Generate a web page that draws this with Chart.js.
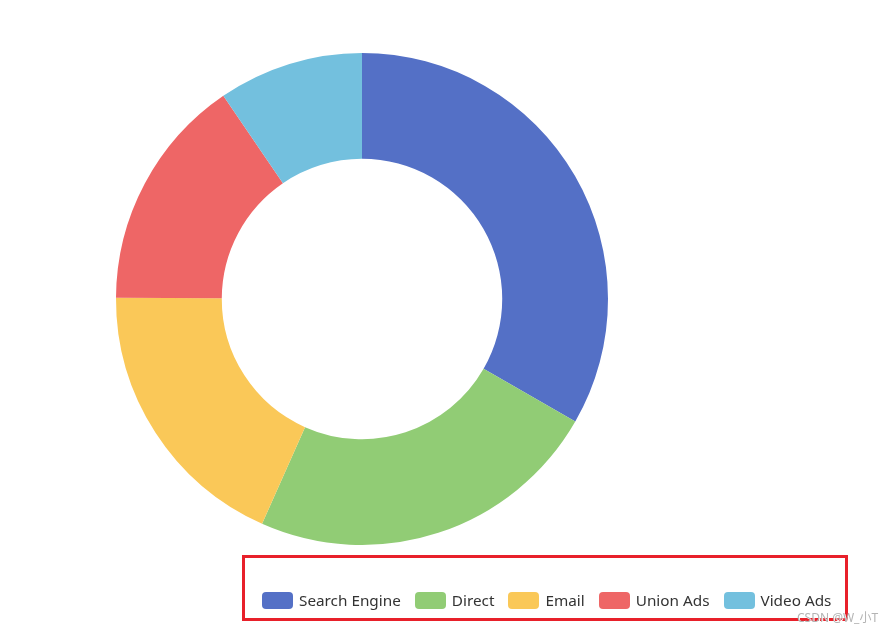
<!DOCTYPE html>
<html>
<head>
<meta charset="utf-8">
<script src="https://cdn.jsdelivr.net/npm/chart.js@4"></script>
<style>
  html, body { margin: 0; padding: 0; background: #fff; }
  #wrap { position: relative; width: 890px; height: 633px; overflow: hidden; }
  #c { position: absolute; left: 0; top: 0; }
  #legend { position: absolute; left: 262px; top: 590px; display: flex; align-items: center;
    font-family: "Noto Sans", "Open Sans", sans-serif; font-size: 15.3px; color: #333; white-space: nowrap; }
  .item { display: flex; align-items: center; margin-right: 14px; }
  .box { width: 31px; height: 17px; border-radius: 4px; margin-right: 6px; }
  #frame { position: absolute; left: 242px; top: 555px; width: 600px; height: 60px;
    border: 3px solid #e8202a; }
  #wm { position: absolute; left: 797px; top: 608px; font-family: "Noto Sans", "Noto Sans CJK SC", sans-serif;
    font-size: 12px; color: #b4b4b4; text-shadow: 1px 1px 0 #fff; }
</style>
</head>
<body>
<div id="wrap">
  <canvas id="c" width="890" height="633"></canvas>
  <div id="frame"></div>
  <div id="legend"></div>
  <div id="wm">CSDN @W_小T</div>
</div>
<script>
const categories = ["Search Engine", "Direct", "Email", "Union Ads", "Video Ads"];
const values = [1048, 735, 580, 484, 300];
const colors = ["#5470c6", "#91cc75", "#fac858", "#ee6666", "#73c0de"];

const chart = new Chart(document.getElementById('c'), {
  type: 'doughnut',
  data: {
    labels: categories,
    datasets: [{ data: values, backgroundColor: colors, borderWidth: 0, hoverOffset: 0 }]
  },
  options: {
    responsive: false,
    animation: false,
    cutout: '57%',
    layout: { padding: { left: 116, right: 282, top: 53, bottom: 88 } },
    plugins: { legend: { display: false }, tooltip: { enabled: false } },
    events: []
  }
});

const legend = document.getElementById('legend');
chart.data.labels.forEach((lab, i) => {
  const it = document.createElement('div');
  it.className = 'item';
  const b = document.createElement('div');
  b.className = 'box';
  b.style.background = chart.data.datasets[0].backgroundColor[i];
  const t = document.createElement('span');
  t.textContent = lab;
  it.appendChild(b); it.appendChild(t);
  legend.appendChild(it);
});
</script>
</body>
</html>
